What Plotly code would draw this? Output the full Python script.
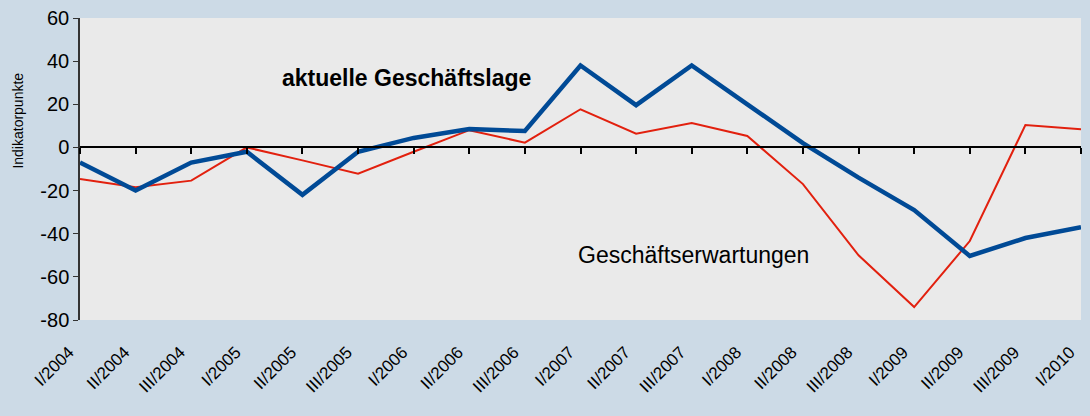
import plotly.graph_objects as go

quarters = ["I/2004", "II/2004", "III/2004", "I/2005", "II/2005", "III/2005",
            "I/2006", "II/2006", "III/2006", "I/2007", "II/2007", "III/2007",
            "I/2008", "II/2008", "III/2008", "I/2009", "II/2009", "III/2009", "I/2010"]
geschaeftslage = [-7, -20, -7, -2, -22, -2, 4.4, 8.5, 7.6, 38, 19.6, 38,
                  20, 2, -14, -29, -50.3, -42, -37]
erwartungen = [-14.6, -18.5, -15.4, 0, -6, -12.2, -2, 8, 2.2, 17.7, 6.4, 11.3,
               5.3, -17, -50, -74, -43.4, 10.4, 8.4]
y_ticks = [60, 40, 20, 0, -20, -40, -60, -80]
y_ticktext = ["60", "40", "20", "0", "-20", "-40", "-60", "-80"]

FONT = "Liberation Sans, Arial, sans-serif"

fig = go.Figure()
fig.add_trace(go.Scatter(x=quarters, y=erwartungen, mode="lines",
                         line=dict(color="#E2200E", width=2), name="Geschäftserwartungen"))
fig.add_trace(go.Scatter(x=quarters, y=geschaeftslage, mode="lines",
                         line=dict(color="#004A96", width=4.5), name="aktuelle Geschäftslage"))
# invisible trace for the zero-crossing category axis with ticks
fig.add_trace(go.Scatter(x=quarters, y=[0]*len(quarters), xaxis="x2", mode="lines",
                         line=dict(color="rgba(0,0,0,0)", width=0), hoverinfo="skip",
                         showlegend=False))

fig.add_annotation(x=5.87, y=32.2, text="<b>aktuelle Geschäftslage</b>", showarrow=False,
                   font=dict(family=FONT, size=23, color="black"))
fig.add_annotation(x=11.04, y=-49.9, text="Geschäftserwartungen", showarrow=False,
                   font=dict(family=FONT, size=23, color="black"))
fig.add_annotation(xref="paper", yref="paper", x=-0.062, y=0.66, text="Indikatorpunkte",
                   textangle=-90, showarrow=False, xanchor="center", yanchor="middle",
                   font=dict(family=FONT, size=14, color="black"))

fig.update_layout(
    width=1090, height=416,
    margin=dict(l=80, r=9, t=18, b=96),
    paper_bgcolor="#CCDAE6", plot_bgcolor="#EAEAEA",
    showlegend=False,
    font=dict(family=FONT, color="black"),
    xaxis=dict(type="category", range=[0, 18], showgrid=False, zeroline=False,
               showline=False, ticks="", tickangle=-45, automargin=False,
               ticklabelstandoff=18, ticklabelshift=-11,
               tickfont=dict(size=17), categoryorder="array", categoryarray=quarters),
    xaxis2=dict(type="category", range=[0, 18], overlaying="x", anchor="free",
                position=80/140, side="bottom", showgrid=False, zeroline=False,
                showline=True, linecolor="black", linewidth=2, ticks="outside",
                ticklen=6, tickwidth=2, tickcolor="black", showticklabels=False,
                automargin=False, categoryorder="array", categoryarray=quarters),
    yaxis=dict(range=[-80, 60], tickvals=y_ticks, ticktext=y_ticktext, showgrid=False,
               zeroline=False, automargin=False,
               showline=True, linecolor="#333333", linewidth=1.5, ticks="outside",
               ticklen=5, tickcolor="#333333", tickfont=dict(size=20)),
)

fig.write_html("out.html", config={"displayModeBar": False},
               post_script="document.body.style.margin='0';")
